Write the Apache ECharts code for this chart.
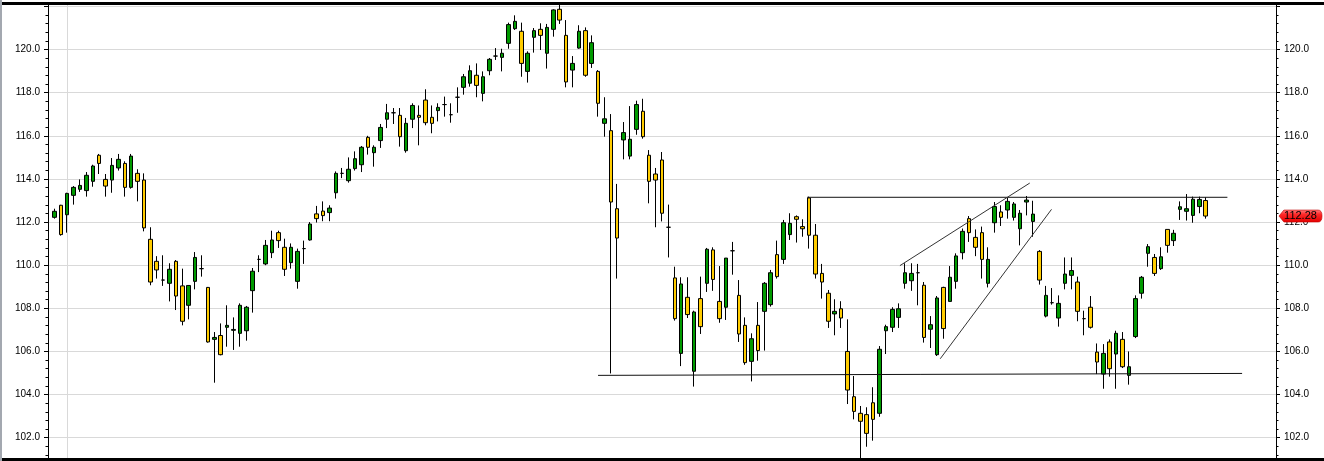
<!DOCTYPE html>
<html>
<head>
<meta charset="utf-8">
<script src="https://cdn.jsdelivr.net/npm/echarts@6.0.0/dist/echarts.min.js"></script>
<style>
html,body{margin:0;padding:0;background:#fff;overflow:hidden;width:1324px;height:461px;}
#chart{position:absolute;left:0;top:-37px;width:1324px;height:518px;}
</style>
</head>
<body>
<div id="chart"></div>
<script>
// ---- data ----
const opens = [112.22,112.78,112.34,113.24,113.52,113.46,113.89,115.10,113.98,113.95,114.51,114.72,113.61,114.26,113.95,111.20,110.18,109.31,109.16,110.18,
109.04,108.14,109.25,109.84,108.97,106.56,106.74,107.12,106.98,106.84,106.96,108.82,110.27,110.06,110.58,111.51,110.83,110.12,109.25,110.77,
111.17,112.38,112.51,112.44,113.36,114.26,113.92,114.48,114.66,115.93,115.22,115.78,116.77,117.07,116.95,115.31,116.77,116.95,117.66,116.86,
117.17,117.45,116.98,117.79,118.25,118.44,118.81,117.97,119.02,119.70,119.64,120.29,120.97,120.85,118.99,120.57,120.94,119.83,120.94,121.87,
120.66,119.05,120.07,120.88,119.36,118.99,116.58,116.24,112.62,115.81,115.06,116.30,117.14,115.10,114.23,114.88,111.76,109.41,105.91,108.51,
105.08,108.45,109.16,110.71,108.32,108.05,110.67,108.60,107.21,105.54,107.21,107.86,108.17,110.49,110.27,111.42,112.25,111.79,113.12,111.39,
109.62,108.70,107.74,107.98,106.00,103.90,103.13,103.07,103.62,103.13,106.96,107.12,107.58,109.16,109.28,109.65,109.07,107.03,105.85,108.97,
108.32,109.25,110.58,112.16,111.29,111.51,109.16,111.97,112.47,112.56,112.22,111.69,112.93,112.03,110.64,107.64,108.26,107.55,109.16,109.53,
109.22,107.52,108.05,105.97,104.95,106.44,105.88,106.56,104.89,106.69,108.70,110.55,110.36,109.84,111.66,111.14,112.59,112.50,112.31,112.72,
113.00];
const closes = [112.50,111.42,113.33,113.61,113.70,114.17,114.60,114.72,113.67,114.63,114.91,113.61,115.06,113.89,111.73,109.22,109.78,109.31,109.81,108.57,
107.40,109.06,110.36,109.84,106.44,106.65,105.85,107.21,107.02,108.14,108.05,109.72,110.27,110.92,111.17,111.14,109.81,110.83,110.64,110.77,
111.91,112.16,112.30,112.65,114.26,114.26,114.45,114.94,115.47,115.47,115.47,116.39,117.07,117.07,115.96,116.58,117.41,116.86,116.61,116.58,
117.32,117.45,116.98,117.79,118.74,119.02,118.34,118.74,119.55,119.70,119.83,121.16,121.31,119.36,119.83,120.88,120.66,121.03,121.84,121.37,
118.50,119.36,120.85,118.81,120.32,117.51,116.79,112.93,111.26,116.15,115.84,117.45,115.96,113.89,113.95,112.41,111.76,107.52,109.13,107.71,
107.83,107.15,110.74,109.34,107.52,110.33,110.67,106.81,105.48,106.59,106.04,109.16,109.65,109.47,111.97,111.94,112.13,111.69,111.39,109.59,
109.22,107.40,107.86,107.55,104.21,103.22,102.76,102.20,102.85,106.10,107.15,107.95,107.98,109.65,109.62,109.65,106.65,107.24,108.48,107.06,
109.44,110.43,111.57,111.51,110.83,110.27,110.27,112.72,112.22,112.96,112.84,112.41,113.02,112.37,109.31,108.60,108.26,108.23,109.59,109.75,
107.86,107.52,107.12,105.51,105.91,105.20,106.84,105.29,105.29,108.45,109.44,110.86,109.62,110.39,110.92,111.48,112.71,112.62,113.06,113.05,
112.28];
const lows = [112.16,111.37,111.51,112.81,113.40,113.18,113.64,114.23,113.18,113.36,114.39,113.18,113.55,112.96,111.57,109.07,109.38,109.04,108.32,107.92,
107.21,107.49,108.88,109.47,106.41,104.55,105.82,106.22,106.07,106.22,106.50,107.80,109.68,110.00,110.33,110.80,109.50,109.84,108.91,110.06,
111.14,111.98,112.04,112.04,113.09,114.04,113.83,114.39,114.32,115.13,114.57,115.44,116.36,116.55,115.50,115.22,116.36,115.56,116.49,116.12,
116.67,116.89,116.61,117.07,117.91,118.28,117.79,117.60,118.81,119.52,118.99,120.04,120.91,118.74,118.47,119.86,119.98,119.12,120.60,121.19,
118.25,118.25,120.04,118.74,119.15,116.89,115.96,104.98,109.38,114.91,114.91,116.05,115.87,112.87,111.76,112.03,110.36,107.43,105.32,107.55,
104.37,106.81,108.76,108.81,107.33,107.46,109.56,106.44,105.38,104.61,105.57,106.04,108.08,109.38,110.06,111.17,111.05,111.32,110.77,109.38,
108.45,107.09,106.75,107.09,103.56,102.85,100.97,101.58,101.86,102.97,105.88,106.90,107.09,108.91,108.81,108.14,106.41,106.16,105.79,106.59,
108.32,108.91,110.27,111.08,110.42,109.38,108.97,111.51,111.82,112.16,112.07,110.92,112.31,111.32,109.10,107.58,108.17,107.15,108.88,108.88,
107.40,106.75,107.06,104.95,104.27,104.83,104.27,105.23,104.46,106.62,108.45,109.93,109.50,109.78,110.58,110.89,112.10,112.07,111.97,112.41,
112.16];
const highs = [112.62,112.80,113.36,113.67,113.98,114.32,114.66,115.16,114.23,114.97,115.16,114.82,115.16,114.45,114.26,111.76,110.42,110.46,110.09,110.24,
109.84,109.07,110.61,110.46,108.99,106.90,107.30,108.14,107.58,108.23,108.11,109.87,110.46,111.17,111.60,111.60,111.23,111.01,110.77,111.14,
112.00,112.75,112.96,112.78,114.35,114.51,115.00,115.28,115.53,116.00,115.56,116.55,117.48,117.29,117.29,116.83,117.51,117.41,118.16,117.41,
117.51,117.82,117.51,118.25,118.87,119.27,119.36,118.99,119.61,120.07,120.04,121.25,121.59,121.25,119.92,121.00,121.22,121.19,121.87,122.15,
121.37,119.70,121.13,121.03,120.66,119.05,117.79,117.01,113.77,116.64,117.38,117.63,117.72,115.34,114.51,115.25,112.81,109.93,109.44,109.44,
107.89,109.47,110.80,110.83,109.96,110.33,111.08,109.31,107.58,106.84,108.29,109.22,109.78,111.14,112.10,112.41,112.31,112.13,113.18,111.91,
110.06,108.85,108.42,108.33,107.49,104.86,103.47,103.41,104.34,106.25,107.24,108.05,108.23,110.09,110.09,110.06,109.22,107.64,108.57,109.00,
109.96,110.55,111.70,112.28,111.66,111.79,110.83,112.93,112.78,113.12,112.93,112.56,113.21,112.99,110.70,109.04,108.94,108.60,110.36,110.36,
109.47,107.89,108.57,106.37,106.34,106.56,106.96,106.90,106.00,108.60,109.50,110.98,110.52,110.83,111.66,111.64,112.96,113.30,113.18,113.18,
113.15];

// drawn trend lines: [position on the day axis, price]
const supportLine    = [[86.0, 104.89], [186.7, 104.98]];
const resistanceLine = [[118.7, 113.15], [184.4, 113.15]];
const wedgeUpper     = [[133.2, 109.98], [153.5, 113.81]];
const wedgeLower     = [[139.5, 105.66], [156.9, 112.59]];

const yTicks = { min: 100, max: 124, step: 2 };
const leadingSlots = 1, trailingSlots = 11;

// ---- build ----
const n = opens.length;
const totalSlots = leadingSlots + n + trailingSlots;
const categories = [];
for (let i = 0; i < totalSlots; i++) categories.push('d' + i);
const candleData = [];
for (let i = 0; i < leadingSlots; i++) candleData.push('-');
for (let i = 0; i < n; i++) candleData.push([opens[i], closes[i], lows[i], highs[i]]);
const lastClose = closes[n - 1];

// the chart canvas is 37px taller at the top than the window (see CSS)
const OFF = 37;
const chart = echarts.init(document.getElementById('chart'), null, {renderer: 'canvas'});
const FONT = 'Liberation Sans, Arial, sans-serif';
const yAxisBase = {
  type: 'value', min: yTicks.min, max: yTicks.max, interval: yTicks.step,
  axisLine: {show: true, lineStyle: {color: '#000', width: 1}},
  axisTick: {show: true, inside: false, length: 4, lineStyle: {color: '#000'}},
  minorTick: {show: true, splitNumber: 5, length: 2.5, lineStyle: {color: '#000'}},
  axisLabel: {
    margin: 8, color: '#000', fontSize: 10, fontFamily: FONT,
    formatter: v => (v > 101 && v < 121.5) ? v.toFixed(1) : ''
  },
  splitLine: {show: false}
};
const lineSeries = (pts, color) => ({
  type: 'line', xAxisIndex: 1, yAxisIndex: 0, data: pts, symbol: 'none', silent: true,
  lineStyle: {color: color, width: 1}, z: 5, animation: false
});

chart.setOption({
  animation: false,
  backgroundColor: '#fff',
  grid: {left: 48, right: 48, top: 0.36, bottom: 0.2, containLabel: false},
  xAxis: [
    {type: 'category', data: categories, boundaryGap: false,
     axisLine: {show: false}, axisTick: {show: false}, axisLabel: {show: false},
     splitLine: {show: true, interval: (idx) => idx === 3, lineStyle: {color: '#d9d9d9', width: 1}}},
    {type: 'value', min: 0, max: totalSlots - 1, show: false}
  ],
  yAxis: [
    Object.assign({}, yAxisBase, {position: 'left',
      splitLine: {show: true, lineStyle: {color: '#d9d9d9', width: 1}}}),
    Object.assign({}, yAxisBase, {position: 'right'})
  ],
  series: [
    {
      type: 'candlestick', xAxisIndex: 0, yAxisIndex: 0, data: candleData,
      barWidth: 4,
      itemStyle: {
        color: '#009a00', color0: '#ffcc00',
        borderColor: '#000', borderColor0: '#000', borderColorDoji: '#000', borderWidth: 1
      },
      markPoint: {
        silent: true, animation: false,
        symbol: 'path://M0,6 L5,0 L40,0 Q44,0 44,6 Q44,12 40,12 L5,12 Z',
        symbolSize: [43, 12], symbolOffset: [24.5, 0], symbolKeepAspect: false,
        itemStyle: {
          color: {type: 'linear', x: 0, y: 0, x2: 0, y2: 1, colorStops: [
            {offset: 0, color: '#ff8080'}, {offset: 0.35, color: '#ff2a2a'}, {offset: 1, color: '#e40000'}]},
          borderColor: '#c00000', borderWidth: 0.5
        },
        label: {show: true, position: 'inside', color: '#000', fontSize: 11, fontFamily: FONT,
          formatter: p => p.value.toFixed(2)},
        data: [{coord: [categories[totalSlots - 1], lastClose], value: lastClose}]
      }
    },
    lineSeries(supportLine, '#111'),
    lineSeries(resistanceLine, '#111'),
    lineSeries(wedgeUpper, '#333'),
    lineSeries(wedgeLower, '#333')
  ],
  graphic: [
    {type: 'rect', shape: {x: 0, y: 0, width: 1324, height: OFF + 2}, style: {fill: '#fff'}, z: 100},
    {type: 'rect', shape: {x: 0, y: OFF + 2, width: 1324, height: 3}, style: {fill: '#000'}, z: 101},
    {type: 'rect', shape: {x: 0, y: OFF + 458, width: 1324, height: 30}, style: {fill: '#000'}, z: 101},
    {type: 'rect', shape: {x: 0, y: 0, width: 2, height: 518}, style: {fill: '#a3a8b0'}, z: 102}
  ]
});
</script>
</body>
</html>
